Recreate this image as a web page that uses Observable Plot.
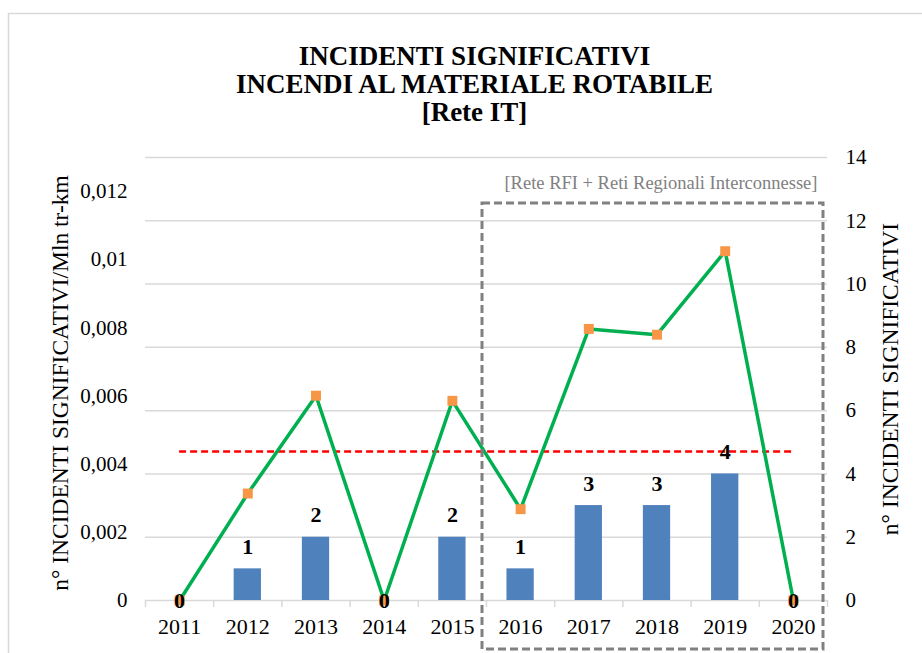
<!DOCTYPE html>
<html>
<head>
<meta charset="utf-8">
<script src="https://cdn.jsdelivr.net/npm/d3@7"></script>
<script src="https://cdn.jsdelivr.net/npm/@observablehq/plot@0.6"></script>
<style>
  html, body { margin: 0; padding: 0; background: #fff; overflow: hidden; }
  svg, svg text, svg tspan { font-family: "Liberation Serif", "Times New Roman", "DejaVu Serif", serif !important; }
</style>
</head>
<body>
<div id="chart"></div>
<script>
// ---- data ----
const years = [2011, 2012, 2013, 2014, 2015, 2016, 2017, 2018, 2019, 2020];
const counts = [0, 1, 2, 0, 2, 1, 3, 3, 4, 0];                 // bars, right axis
const rates = [0, 0.00314, 0.00601, 0, 0.00586, 0.00268, 0.00797, 0.0078, 0.01025, 0]; // line, left axis
const avgRate = 0.00437;                                        // red dashed line
const leftTicks = [0, 0.002, 0.004, 0.006, 0.008, 0.01, 0.012];
const rightTicks = [0, 2, 4, 6, 8, 10, 12, 14];
const leftMax = 0.013;
const rightMax = 14;
const rfiStart = 2016;
const titleLines = ["INCIDENTI SIGNIFICATIVI", "INCENDI AL MATERIALE ROTABILE", "[Rete IT]"];
const annotation = "[Rete RFI + Reti Regionali Interconnesse]";
const leftLabel = "n° INCIDENTI SIGNIFICATIVI/Mln tr-km";
const rightLabel = "n° INCIDENTI SIGNIFICATIVI";

// ---- derived ----
const k = rightMax / leftMax;
const data = years.map((year, i) => ({year, count: counts[i], rate: rates[i]}));
const bounds = [...years.map(y => y - 0.5), years[years.length - 1] + 0.5];
const fmt = d => String(d).replace(".", ",");
const lastYear = years[years.length - 1];

const W = 922, H = 653, ml = 145, mr = 95, mt = 157, mb = 53;
const serif = "Liberation Serif, Times New Roman, serif";

const chart = Plot.plot({
  width: W,
  height: H,
  marginLeft: ml,
  marginRight: mr,
  marginTop: mt,
  marginBottom: mb,
  style: {fontFamily: serif, fontSize: "21px", color: "#000", background: "#fff"},
  x: {type: "linear", domain: [years[0] - 0.5, lastYear + 0.5]},
  y: {domain: [0, rightMax]},
  marks: [
    // outer chart border
    Plot.frame({stroke: "#d9d9d9", strokeWidth: 1.5, insetLeft: -(ml - 8), insetTop: -(mt - 13), insetRight: -(mr + 5), insetBottom: -(mb + 5)}),
    // gridlines (right axis)
    Plot.gridY(rightTicks.slice(1), {stroke: "#d9d9d9", strokeOpacity: 1, strokeWidth: 1.5}),
    Plot.ruleY([0], {stroke: "#d9d9d9", strokeWidth: 1.5}),
    Plot.ruleX(bounds, {y1: 0, y2: -0.22, stroke: "#d9d9d9", strokeWidth: 1.5}),
    // bars
    Plot.rectY(data, {x1: d => d.year - 0.2, x2: d => d.year + 0.2, y: "count", fill: "#4F81BD"}),
    // average dashed line
    Plot.ruleY([avgRate], {y: d => d * k, x1: years[0], x2: lastYear, stroke: "#FF0000", strokeWidth: 2.5, strokeDasharray: "7,4"}),
    // rate line + markers
    Plot.line(data, {x: "year", y: d => d.rate * k, stroke: "#00B050", strokeWidth: 3.5}),
    Plot.dot(data, {x: "year", y: d => d.rate * k, symbol: "square", r: 5.6, fill: "#F79646", stroke: null}),
    // bar value labels
    Plot.text(data.filter(d => d.count > 0), {x: "year", y: "count", text: d => String(d.count), dy: -22, fontWeight: "bold", fontSize: 22, fontFamily: serif, fill: "#000"}),
    Plot.text(data.filter(d => d.count === 0), {x: "year", y: "count", text: d => String(d.count), fontWeight: "bold", fontSize: 22, fontFamily: serif, fill: "#000"}),
    // RFI dashed box
    Plot.rect([rfiStart], {x1: d => d - 0.5, x2: lastYear + 0.5, insetLeft: -4, insetRight: 4, insetTop: 46, insetBottom: -49, fill: "none", stroke: "#808080", strokeWidth: 3, strokeDasharray: "8,4"}),
    Plot.text([annotation], {frameAnchor: "top-right", textAnchor: "end", lineAnchor: "middle", dx: -10, dy: 26, fontSize: 18.5, fontFamily: serif, fill: "#808080"}),
    // axes
    Plot.axisY(leftTicks, {y: d => d * k, anchor: "left", tickSize: 0, tickPadding: 18, tickFormat: fmt, label: null, fontSize: 21, fontFamily: serif}),
    Plot.axisY(rightTicks, {anchor: "right", tickSize: 0, tickPadding: 18, label: null, fontSize: 21, fontFamily: serif}),
    Plot.axisX(years, {tickSize: 0, tickPadding: 18, tickFormat: d => String(d), label: null, fontSize: 22, fontFamily: serif}),
    // axis titles
    Plot.text([leftLabel], {frameAnchor: "left", textAnchor: "middle", lineAnchor: "middle", dx: -85, dy: 4, rotate: -90, fontSize: 23.5, fontFamily: serif, fill: "#000"}),
    Plot.text([rightLabel], {frameAnchor: "right", textAnchor: "middle", lineAnchor: "middle", dx: 63, rotate: -90, fontSize: 23.5, fontFamily: serif, fill: "#000"}),
    // title
    Plot.text([titleLines.join("\n")], {frameAnchor: "top", textAnchor: "middle", lineAnchor: "middle", dx: -12, dy: -73, lineHeight: 28 / 27, fontSize: 27, fontWeight: "bold", fontFamily: serif, fill: "#000"})
  ]
});
document.getElementById("chart").appendChild(chart);
</script>
</body>
</html>
